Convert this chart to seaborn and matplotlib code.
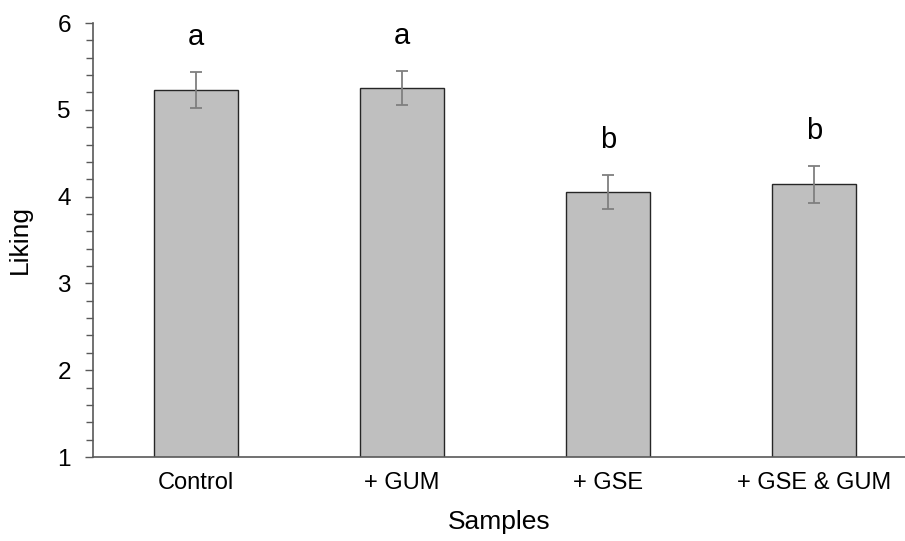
import matplotlib
matplotlib.use("Agg")
import matplotlib.pyplot as plt
import seaborn as sns
import pandas as pd
from matplotlib.ticker import MultipleLocator

samples = ["Control", "+ GUM", "+ GSE", "+ GSE & GUM"]
liking = [5.23, 5.25, 4.05, 4.14]
se = [0.205, 0.20, 0.195, 0.21]
letters = ["a", "a", "b", "b"]

sns.set_style("white")
plt.rcParams["font.family"] = ["Liberation Sans", "DejaVu Sans"]
plt.rcParams["text.color"] = "black"
plt.rcParams["axes.labelcolor"] = "black"
plt.rcParams["xtick.color"] = "black"
plt.rcParams["ytick.color"] = "black"

df = pd.DataFrame({"Samples": samples, "Liking": liking})

fig = plt.figure(figsize=(9.05, 5.41), dpi=100)
ax = fig.add_axes([93 / 905, 84 / 541, 1 - 93 / 905, (457 - 23) / 541])

sns.barplot(data=df, x="Samples", y="Liking", order=samples, color="#bfbfbf",
            saturation=1, width=0.408, edgecolor="#262626", linewidth=1.0,
            errorbar=None, ax=ax)

pos = list(range(len(samples)))
ax.errorbar(pos, liking, yerr=se, fmt="none", ecolor="#7f7f7f",
            elinewidth=1.3, capsize=4.6, capthick=1.3, zorder=5)

for p, v, s, l in zip(pos, liking, se, letters):
    ax.text(p, v + s + 0.31, l, ha="center", va="baseline", fontsize=21,
            color="black")

ax.set_ylim(1, 6)
ax.set_xlim(-0.5, 3.443)
ax.yaxis.set_major_locator(MultipleLocator(1))
ax.yaxis.set_minor_locator(MultipleLocator(0.2))
ax.tick_params(axis="y", which="major", direction="out", length=6, width=1,
               color="#595959", labelcolor="black", labelsize=17.5, pad=10,
               left=True)
ax.tick_params(axis="y", which="minor", direction="out", length=5, width=1,
               color="#595959", left=True)
ax.tick_params(axis="x", length=0, labelsize=17, labelcolor="black", pad=11)

for side in ["top", "right"]:
    ax.spines[side].set_visible(False)
for side in ["left", "bottom"]:
    ax.spines[side].set_color("#595959")
    ax.spines[side].set_linewidth(1.2)

ax.set_xlabel("Samples", fontsize=19, labelpad=11)
ax.set_ylabel("Liking", fontsize=19, labelpad=18)

fig.savefig("out.png", dpi=100)
